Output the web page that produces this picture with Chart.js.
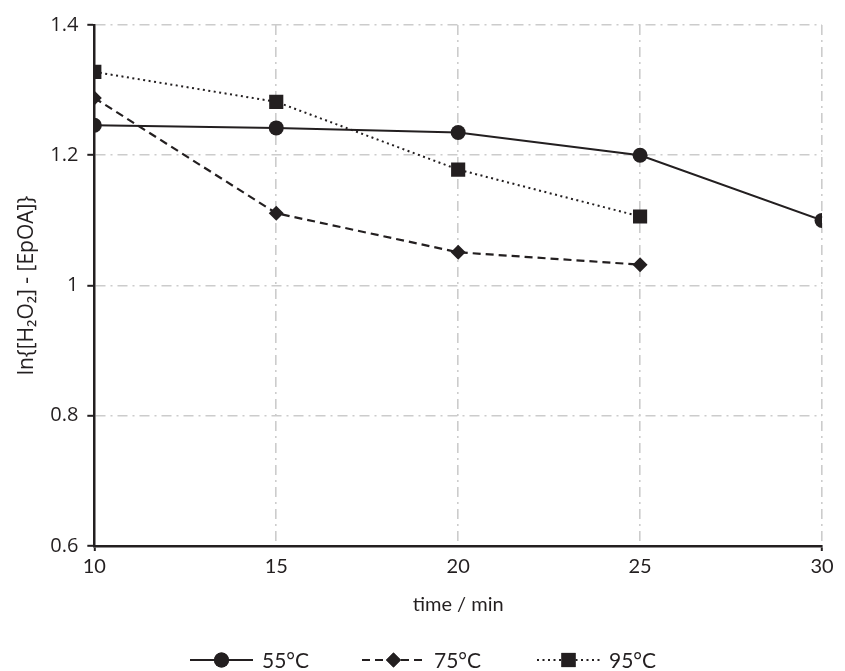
<!DOCTYPE html>
<html>
<head>
<meta charset="utf-8">
<script src="https://cdn.jsdelivr.net/npm/chart.js@4"></script>
<style>
html,body{margin:0;padding:0;background:#fff;}
#wrap{width:845px;height:671px;}
</style>
</head>
<body>
<div id="wrap"><canvas id="c" width="845" height="671"></canvas></div>
<script>
const times = [10, 15, 20, 25, 30];
const series55 = [1.246, 1.242, 1.235, 1.200, 1.100];
const series75 = [1.288, 1.111, 1.051, 1.032];
const series95 = [1.328, 1.282, 1.178, 1.106];
const seriesNames = ['55°C', '75°C', '95°C'];
const yTicks = [0.6, 0.8, 1.0, 1.2, 1.4];

const INK = '#231f20';
const GRID = '#cccccc';
const FONT = 'Lato, "Open Sans", sans-serif';
const FONT2 = '"Open Sans", Lato, sans-serif';

function pts(vals){ return vals.map((v,i)=>({x: times[i], y: v})); }

const legendPlugin = {
  id: 'lineLegend',
  afterDraw(chart){
    const ctx = chart.ctx;
    const y = 660;
    const items = [
      {ds: chart.data.datasets[0], x0: 190},
      {ds: chart.data.datasets[1], x0: 362},
      {ds: chart.data.datasets[2], x0: 537}
    ];
    ctx.save();
    items.forEach(it => {
      const ds = it.ds;
      ctx.beginPath();
      ctx.setLineDash(ds.borderDash || []);
      ctx.lineWidth = ds.borderWidth;
      ctx.strokeStyle = INK;
      ctx.moveTo(it.x0, y);
      ctx.lineTo(it.x0 + 63, y);
      ctx.stroke();
      ctx.setLineDash([]);
      ctx.fillStyle = INK;
      Chart.helpers.drawPoint(ctx, {pointStyle: ds.pointStyle, radius: ds.pointRadius, borderWidth: 0, rotation: 0}, it.x0 + 31.5, y);
      ctx.fill();
      ctx.font = '21px ' + FONT;
      ctx.textBaseline = 'middle';
      ctx.textAlign = 'left';
      ctx.fillText(ds.label, it.x0 + 72, y + 1);
    });
    ctx.restore();
  }
};

new Chart(document.getElementById('c'), {
  type: 'scatter',
  data: {
    datasets: [
      {label: seriesNames[0], data: pts(series55), showLine: true, borderColor: INK, backgroundColor: INK,
       borderWidth: 2, pointStyle: 'circle', pointRadius: 7.5, pointBorderWidth: 0},
      {label: seriesNames[1], data: pts(series75), showLine: true, borderColor: INK, backgroundColor: INK,
       borderWidth: 2.2, borderDash: [8, 5], pointStyle: 'rectRot', pointRadius: 7.5, pointBorderWidth: 0},
      {label: seriesNames[2], data: pts(series95), showLine: true, borderColor: INK, backgroundColor: INK,
       borderWidth: 2, borderDash: [2, 3.5], pointStyle: 'rect', pointRadius: 10, pointBorderWidth: 0}
    ]
  },
  options: {
    responsive: false,
    animation: false,
    layout: {padding: {top: 25, right: 23, bottom: 50, left: 10}},
    plugins: {legend: {display: false}, tooltip: {enabled: false}},
    scales: {
      x: {
        type: 'linear', min: 10, max: 30,
        ticks: {stepSize: 5, color: INK, font: {family: FONT, size: 20}, padding: 4},
        grid: {
          color: c => (c.tick && c.tick.value === 10) ? 'rgba(0,0,0,0)' : GRID,
          lineWidth: 1.6,
          drawTicks: true, tickLength: 5,
          tickColor: c => (c.tick && (c.tick.value === 10 || c.tick.value === 30)) ? INK : 'rgba(0,0,0,0)',
          tickWidth: 2, tickBorderDash: []
        },
        border: {display: true, color: INK, width: 2.5, dash: [10, 5, 2, 5]},
        title: {display: true, text: 'time / min', color: INK, font: {family: FONT, size: 20}, padding: {top: 10}}
      },
      y: {
        type: 'linear', min: 0.6, max: 1.4,
        afterBuildTicks: s => { s.ticks = yTicks.map(v => ({value: v})); },
        ticks: {color: INK, font: {family: FONT2, size: 20}, padding: 9,
                callback: v => String(Math.round(v*10)/10)},
        grid: {
          color: c => (c.tick && c.tick.value === 0.6) ? 'rgba(0,0,0,0)' : GRID,
          lineWidth: 1.6,
          drawTicks: true, tickLength: 7,
          tickColor: INK, tickWidth: 2, tickBorderDash: []
        },
        border: {display: true, color: INK, width: 2.5, dash: [10, 5, 2, 5]},
        title: {display: true, text: 'ln{[H₂O₂] - [EpOA]}', color: INK, font: {family: FONT2, size: 21}, padding: {bottom: 2}}
      }
    }
  },
  plugins: [legendPlugin]
});
</script>
</body>
</html>
